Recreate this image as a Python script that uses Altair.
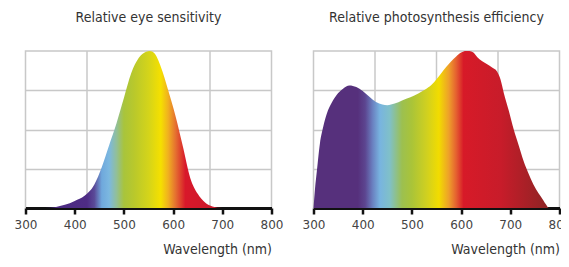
import altair as alt
import pandas as pd

# ---- data ----
eye_nm = [300, 340, 360, 380, 400, 420, 440, 455, 470, 485, 500, 515, 530, 545, 553,
          562, 575, 590, 605, 620, 635, 650, 665, 680, 700, 720, 800]
eye_val = [0.0, 0.0, 0.005, 0.02, 0.045, 0.078, 0.15, 0.26, 0.40, 0.54, 0.70, 0.86, 0.955,
           0.995, 1.0, 0.985, 0.90, 0.75, 0.585, 0.39, 0.19, 0.09, 0.035, 0.01, 0.0, 0.0, 0.0]

photo_nm = [300, 303, 307, 313, 320, 327, 337, 347, 360, 373, 387, 400, 413, 427, 440, 450,
            465, 480, 497, 513, 527, 540, 550, 560, 570, 580, 590, 600, 610, 617, 625, 633,
            643, 653, 663, 673, 680, 687, 697, 707, 717, 727, 737, 747, 757, 767, 773, 778, 800]
photo_val = [0.0, 0.12, 0.24, 0.41, 0.52, 0.60, 0.67, 0.72, 0.76, 0.78, 0.77, 0.745, 0.71,
             0.675, 0.66, 0.655, 0.665, 0.685, 0.705, 0.73, 0.755, 0.785, 0.82, 0.86, 0.90,
             0.935, 0.965, 0.99, 1.0, 1.0, 0.99, 0.96, 0.935, 0.915, 0.895, 0.87, 0.82, 0.73,
             0.62, 0.50, 0.40, 0.30, 0.22, 0.15, 0.095, 0.05, 0.02, 0.0, 0.0]

x_ticks = [300, 400, 500, 600, 700, 800]
grid_nm = [425, 550, 675]
grid_y = [0.25, 0.5, 0.75]

eye_title = "Relative eye sensitivity"
photo_title = "Relative photosynthesis efficiency"
x_title = "Wavelength (nm)"

# ---- colour gradient stops (style) ----
eye_stop_nm = [300, 425, 440, 455, 470, 485, 500, 520, 550, 575, 590, 605, 625, 700, 800]
eye_stop_col = ["#4a2a80", "#4e2c84", "#5a4a98", "#6fa8dc", "#7cb8e0", "#92bf98", "#a8c43c",
                "#b8c82c", "#d4d41a", "#f5e000", "#f0b020", "#e57030", "#d8182a", "#c8182a", "#c8182a"]
photo_stop_nm = [300, 390, 405, 420, 435, 455, 480, 500, 530, 555, 575, 590, 605, 680, 780, 800]
photo_stop_col = ["#56307c", "#56307c", "#5c4590", "#6a80c0", "#78b4e0", "#80c0c8", "#9cc050",
                  "#aac438", "#d0d020", "#f2dc00", "#eea02a", "#e56030", "#d71a28", "#c81c2a",
                  "#8c2424", "#8c2424"]

GRID = "#c8c8c8"
TITLE_FONT = "DejaVu Sans Condensed, Roboto Condensed, Liberation Sans Narrow, Roboto, sans-serif"
LABEL_FONT = "DejaVu Sans, Verdana, sans-serif"


def gradient(nms, cols):
    return alt.Gradient(
        gradient="linear", x1=0, x2=1, y1=0, y2=0,
        stops=[alt.GradientStop(offset=(n - 300) / 500, color=c) for n, c in zip(nms, cols)],
    )


def xenc():
    return alt.X(
        "nm:Q",
        scale=alt.Scale(domain=[300, 800], nice=False, zero=False),
        axis=alt.Axis(values=x_ticks, title=x_title, grid=False, format="d"),
    )


def panel(nm, val, snm, scol, title):
    df = pd.DataFrame({"nm": nm, "val": val})
    grid = alt.Chart(pd.DataFrame({"nm": grid_nm})).mark_rule(
        color=GRID, strokeWidth=1.5
    ).encode(x=xenc())
    area = alt.Chart(df).mark_area(
        interpolate="monotone", color=gradient(snm, scol)
    ).encode(
        x=xenc(),
        y=alt.Y(
            "val:Q",
            scale=alt.Scale(domain=[0, 1], nice=False),
            axis=alt.Axis(values=grid_y, grid=True, labels=False, ticks=False,
                          domain=False, title=None, minExtent=0, gridColor=GRID,
                          gridWidth=1.5),
        ),
    )
    return alt.layer(grid, area).properties(
        width=246, height=157,
        title=alt.TitleParams(title, anchor="middle"),
    )


chart = alt.hconcat(
    panel(eye_nm, eye_val, eye_stop_nm, eye_stop_col, eye_title),
    panel(photo_nm, photo_val, photo_stop_nm, photo_stop_col, photo_title),
    spacing=16,
).properties(
    padding={"left": 4.5, "top": 2, "right": -12, "bottom": 0}
).configure_view(
    stroke=GRID, strokeWidth=1.5
).configure_axisX(
    domainColor="#111", domainWidth=3, tickColor="#111", tickWidth=2.5, tickSize=6,
    labelFont=LABEL_FONT, labelFontSize=12, labelColor="#444", labelPadding=5,
    labelFlush=False,
    titleFont=TITLE_FONT, titleFontSize=14, titleFontWeight="normal",
    titleColor="#333", titleAnchor="end", titlePadding=12,
).configure_title(
    font=TITLE_FONT, fontSize=14, fontWeight="normal", color="#333",
    offset=25,
)

chart.save("out.html", embed_options={"renderer": "svg", "actions": False})
